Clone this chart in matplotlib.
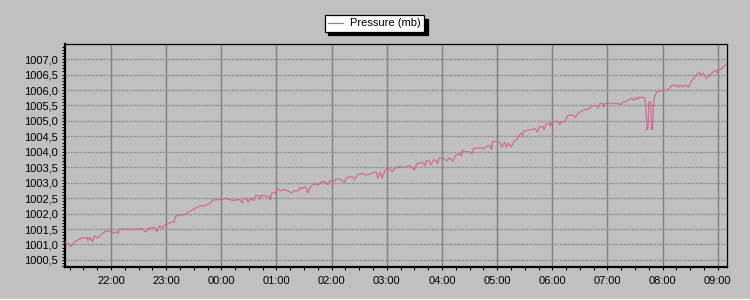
import matplotlib
matplotlib.use('Agg')
import matplotlib.pyplot as plt
import matplotlib.dates as mdates
from matplotlib.ticker import MultipleLocator, FuncFormatter
from matplotlib.patches import Rectangle
from datetime import datetime

plt.rcParams['font.family'] = ['Liberation Sans', 'DejaVu Sans']

times = [
    "21:10", "21:14", "21:16", "21:19", "21:22", "21:27", "21:31", "21:34", "21:35", "21:37",
    "21:40", "21:42", "21:45", "21:49", "21:52", "21:55", "22:00", "22:03", "22:06", "22:08",
    "22:09", "22:20", "22:25", "22:34", "22:38", "22:40", "22:48", "22:50", "22:53", "22:56",
    "22:59", "23:03", "23:07", "23:09", "23:10", "23:14", "23:17", "23:21", "23:25", "23:28",
    "23:33", "23:37", "23:41", "23:45", "23:48", "23:51", "00:01", "00:04", "00:09", "00:14",
    "00:19", "00:23", "00:24", "00:28", "00:29", "00:32", "00:35", "00:37", "00:41", "00:42",
    "00:44", "00:48", "00:52", "00:53", "00:55", "00:59", "01:01", "01:04", "01:09", "01:13",
    "01:16", "01:19", "01:24", "01:26", "01:28", "01:31", "01:33", "01:34", "01:37", "01:40",
    "01:44", "01:45", "01:49", "01:53", "01:56", "01:58", "02:02", "02:05", "02:10", "02:14",
    "02:16", "02:20", "02:23", "02:25", "02:28", "02:33", "02:37", "02:42", "02:46", "02:49",
    "02:50", "02:53", "02:55", "02:58", "03:01", "03:03", "03:06", "03:08", "03:13", "03:16",
    "03:20", "03:25", "03:30", "03:32", "03:34", "03:40", "03:42", "03:43", "03:46", "03:48",
    "03:51", "03:54", "03:55", "03:57", "04:02", "04:05", "04:08", "04:12", "04:14", "04:16",
    "04:20", "04:21", "04:22", "04:26", "04:31", "04:33", "04:34", "04:38", "04:43", "04:45",
    "04:49", "04:52", "04:54", "04:55", "05:00", "05:03", "05:05", "05:08", "05:10", "05:12",
    "05:15", "05:18", "05:21", "05:24", "05:26", "05:28", "05:29", "05:33", "05:41", "05:44",
    "05:46", "05:50", "05:51", "05:53", "05:57", "05:58", "05:59", "06:03", "06:07", "06:08",
    "06:10", "06:14", "06:16", "06:17", "06:23", "06:25", "06:28", "06:32", "06:36", "06:40",
    "06:43", "06:48", "06:50", "06:52", "06:55", "06:56", "06:57", "07:04", "07:10", "07:15",
    "07:17", "07:21", "07:24", "07:27", "07:29", "07:32", "07:33", "07:35", "07:40", "07:41",
    "07:42", "07:43", "07:44", "07:45", "07:47", "07:48", "07:49", "07:50", "07:51", "07:53",
    "07:55", "08:04", "08:07", "08:10", "08:15", "08:17", "08:19", "08:22", "08:25", "08:28",
    "08:30", "08:31", "08:34", "08:37", "08:39", "08:40", "08:42", "08:44", "08:48", "08:50",
    "08:51", "08:53", "08:55", "08:59", "09:00", "09:01", "09:04", "09:08", "09:10",
]

pressure = [
    1001.06, 1001.03, 1000.92, 1001.03, 1001.12, 1001.19, 1001.21, 1001.23, 1001.12, 1001.23,
    1001.09, 1001.28, 1001.21, 1001.30, 1001.39, 1001.44, 1001.41, 1001.37, 1001.41, 1001.36,
    1001.50, 1001.50, 1001.48, 1001.52, 1001.39, 1001.52, 1001.55, 1001.42, 1001.61, 1001.53,
    1001.63, 1001.68, 1001.73, 1001.73, 1001.91, 1001.95, 1001.95, 1001.98, 1002.06, 1002.11,
    1002.19, 1002.25, 1002.25, 1002.29, 1002.34, 1002.44, 1002.45, 1002.49, 1002.45, 1002.42,
    1002.47, 1002.34, 1002.49, 1002.47, 1002.37, 1002.49, 1002.42, 1002.58, 1002.58, 1002.45,
    1002.60, 1002.56, 1002.56, 1002.45, 1002.67, 1002.67, 1002.80, 1002.74, 1002.78, 1002.72,
    1002.67, 1002.74, 1002.74, 1002.85, 1002.80, 1002.87, 1002.80, 1002.66, 1002.87, 1002.94,
    1002.96, 1002.90, 1003.04, 1003.02, 1002.93, 1003.07, 1003.03, 1003.12, 1003.10, 1003.01,
    1003.15, 1003.19, 1003.19, 1003.09, 1003.26, 1003.30, 1003.25, 1003.28, 1003.34, 1003.34,
    1003.15, 1003.34, 1003.15, 1003.39, 1003.50, 1003.45, 1003.36, 1003.45, 1003.52, 1003.50,
    1003.50, 1003.55, 1003.41, 1003.57, 1003.64, 1003.64, 1003.55, 1003.72, 1003.70, 1003.58,
    1003.75, 1003.70, 1003.62, 1003.81, 1003.78, 1003.70, 1003.80, 1003.70, 1003.85, 1003.91,
    1003.94, 1003.86, 1004.04, 1004.01, 1003.99, 1003.93, 1004.10, 1004.12, 1004.13, 1004.09,
    1004.18, 1004.20, 1004.08, 1004.33, 1004.34, 1004.30, 1004.15, 1004.31, 1004.15, 1004.28,
    1004.15, 1004.31, 1004.39, 1004.53, 1004.61, 1004.53, 1004.67, 1004.69, 1004.75, 1004.64,
    1004.80, 1004.82, 1004.71, 1004.89, 1004.92, 1004.82, 1004.96, 1004.99, 1004.96, 1004.89,
    1004.96, 1005.00, 1005.13, 1005.18, 1005.18, 1005.11, 1005.24, 1005.32, 1005.37, 1005.40,
    1005.48, 1005.50, 1005.43, 1005.58, 1005.55, 1005.45, 1005.56, 1005.58, 1005.56, 1005.54,
    1005.61, 1005.64, 1005.69, 1005.74, 1005.66, 1005.76, 1005.70, 1005.77, 1005.76, 1005.61,
    1005.34, 1004.72, 1004.72, 1005.61, 1005.61, 1004.72, 1004.72, 1005.45, 1005.77, 1005.90,
    1005.97, 1005.99, 1006.05, 1006.15, 1006.15, 1006.08, 1006.17, 1006.10, 1006.17, 1006.10,
    1006.20, 1006.29, 1006.37, 1006.51, 1006.53, 1006.58, 1006.48, 1006.55, 1006.37, 1006.51,
    1006.44, 1006.53, 1006.59, 1006.64, 1006.51, 1006.64, 1006.70, 1006.80, 1006.84,
]

series_label = "Pressure (mb)"
x_start, x_end = "21:10", "09:10"


def to_dt(s):
    h, m = map(int, s.split(':'))
    day = 1 if h >= 12 else 2
    return datetime(2000, 1, day, h, m)


xs = [to_dt(s) for s in times]

BG = '#c0c0c0'
GRID = '#808080'

fig = plt.figure(figsize=(7.5, 3), dpi=100, facecolor=BG)
ax = fig.add_axes([65 / 750, 33 / 300, 662 / 750, 223 / 300])
ax.set_facecolor(BG)

ax.plot(xs, pressure, color='#d5628f', lw=0.8, label=series_label, zorder=3)

ax.set_xlim(to_dt(x_start), to_dt(x_end))
ax.set_ylim(1000.27, 1007.49)

ax.yaxis.set_major_locator(MultipleLocator(0.5))
ax.yaxis.set_minor_locator(MultipleLocator(0.1))
ax.yaxis.set_major_formatter(FuncFormatter(lambda v, p: f'{v:.1f}'.replace('.', ',')))

ax.xaxis.set_major_locator(mdates.HourLocator())
ax.xaxis.set_minor_locator(mdates.MinuteLocator(byminute=[0, 15, 30, 45]))
ax.xaxis.set_major_formatter(mdates.DateFormatter('%H:%M'))

ax.grid(axis='y', which='major', color=GRID, linestyle=(0, (1, 1)), lw=1.0, zorder=1)
ax.grid(axis='x', which='major', color=GRID, linestyle='-', lw=1.0, zorder=1)
ax.set_axisbelow(True)

ax.tick_params(axis='both', which='both', direction='out', colors='black',
               width=0.75, length=2.2, labelsize=8)
ax.tick_params(axis='y', which='both', pad=3)
ax.tick_params(axis='x', which='both', pad=4)

for side in ('left', 'bottom'):
    ax.spines[side].set_linewidth(1.6)
for side in ('top', 'right'):
    ax.spines[side].set_linewidth(0.9)
for s in ax.spines.values():
    s.set_color('black')

leg = fig.legend(loc='center', bbox_to_anchor=(374.5 / 750, 1 - 23.5 / 300),
                 frameon=True, fancybox=False,
                 shadow={'ox': 2.5, 'oy': -2.5, 'color': 'black', 'alpha': 1},
                 edgecolor='black', facecolor='white', framealpha=1,
                 fontsize=8, handlelength=1.35, handletextpad=0.6,
                 borderpad=0.3)
leg.get_frame().set_linewidth(0.9)

fig.patches.append(Rectangle((0, 0), 1, 1.5 / 300, transform=fig.transFigure,
                             color='white', zorder=0))

fig.savefig('out.png', dpi=100, facecolor=BG)
